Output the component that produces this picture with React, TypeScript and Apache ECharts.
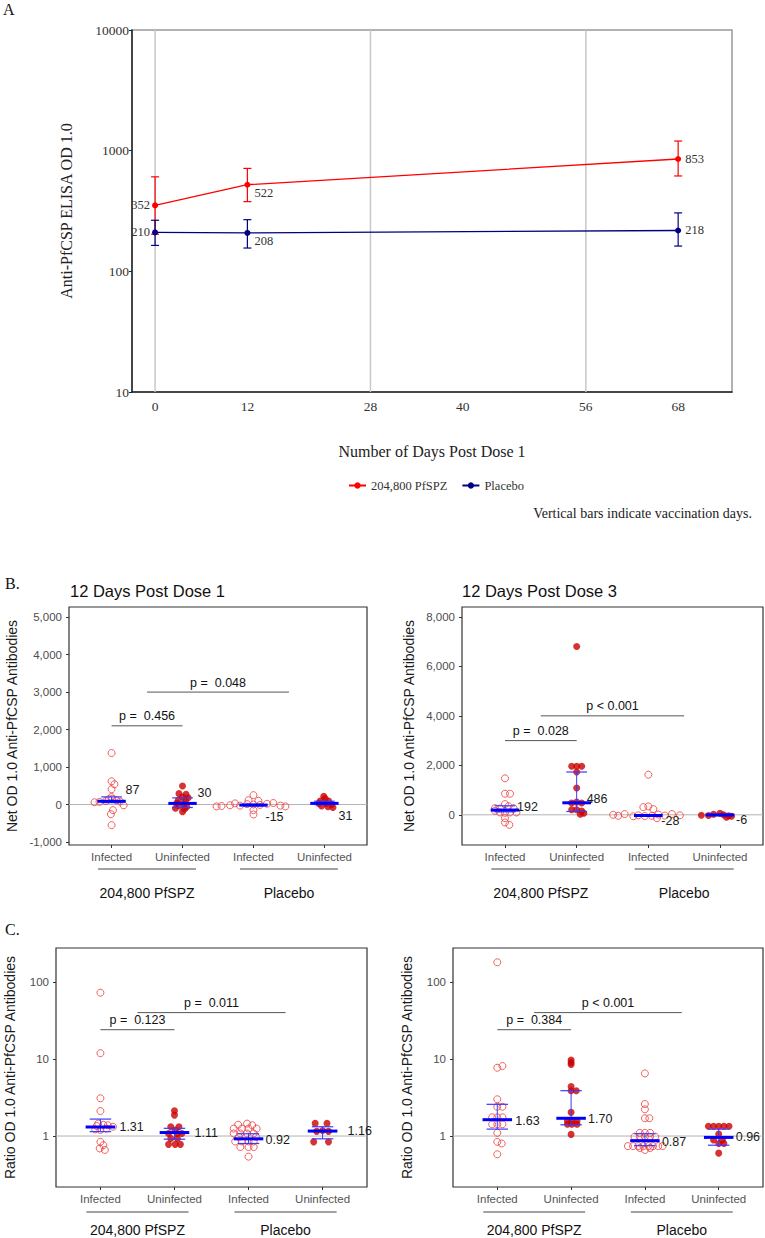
import React, { useEffect, useRef } from 'react';
import * as echarts from 'echarts';

const SANS = '"Liberation Sans", Arial, sans-serif';
const SERIF = '"Liberation Serif", "Times New Roman", serif';

// ---------- Panel A data ----------
const days = [0, 12, 68];
const dayTicks = [0, 12, 28, 40, 56, 68];
const vaccinationDays = [0, 28, 56];
const pfspzGmt = [352, 522, 853];
const pfspzLow = [203, 378, 617];
const pfspzHigh = [607, 713, 1202];
const placeboGmt = [210, 208, 218];
const placeboLow = [164, 156, 162];
const placeboHigh = [265, 268, 305];
const seriesNames = ['204,800 PfSPZ', 'Placebo'];

// ---------- Panels B / C common ----------
const categories = ['Infected', 'Uninfected', 'Infected', 'Uninfected'];
const groupNames = ['204,800 PfSPZ', 'Placebo'];
const groupSpans = [[1, 2], [3, 4]];

// each point: [horizontal swarm offset (category units), value]
// B left: Net OD, 12 days post dose 1
const netD1PfspzInf = [[0, 1374], [0, 620], [0.04, 541], [0, 408], [0, 200], [-0.24, 60], [-0.17, 70], [-0.08, 90], [-0.04, 140], [0.01, 150], [0.07, 110], [0.12, 80], [0.17, -20], [0.02, -150], [-0.01, -257], [0, -550]];
const netD1PfspzUninf = [[0, 496], [-0.05, 290], [0.05, 270], [0, 200], [0.08, 180], [-0.06, 110], [0.04, 100], [-0.08, 40], [0.02, 20], [-0.05, -30], [0.06, -60], [-0.1, -100], [0.03, -120], [0, -190]];
const netD1PlacInf = [[0, 250], [-0.07, 115], [0.07, 100], [-0.52, -50], [-0.45, -40], [-0.33, -20], [-0.26, 30], [-0.19, -30], [-0.09, 10], [0, 0], [0.09, -10], [0.19, 20], [0.28, 40], [0.38, -30], [0.45, -50], [0, -150], [0, -266]];
const netD1PlacUninf = [[-0.01, 222], [0.01, 160], [-0.06, 90], [0.06, 90], [-0.08, 30], [0.02, 30], [0.1, 0], [-0.04, -40], [0.05, -60], [0.12, -80]];
const netD1Medians = [87, 30, -15, 31];
const netD1Lower = [50, -80, -40, 0];
const netD1Upper = [204, 177, 10, 89];
const netD1Ticks = [-1000, 0, 1000, 2000, 3000, 4000, 5000];
const netD1PSpans = [[1, 2, 2100], [1.5, 3.5, 3000]];
const netD1PLabels = ['p =  0.456', 'p =  0.048'];

// B right: Net OD, 12 days post dose 3
const netD3PfspzInf = [[0, 1474], [0, 852], [0.07, 852], [0, 433], [0.05, 350], [-0.07, 257], [-0.14, 270], [0.12, 270], [-0.14, 162], [-0.07, 95], [0, 80], [0.07, 95], [0.16, 95], [0, -135], [0, -311], [0.06, -405]];
const netD3PfspzUninf = [[0, 6800], [-0.07, 1960], [0, 1960], [0.07, 1960], [0, 1730], [0, 1082], [0, 514], [-0.07, 480], [0.07, 480], [-0.07, 203], [0, 203], [0.07, 150], [0.05, 27], [0.1, 60]];
const netD3PlacInf = [[0, 1622], [-0.07, 311], [0, 338], [0.07, 230], [-0.49, 0], [-0.42, -40], [-0.33, 30], [-0.21, -60], [-0.14, -20], [-0.05, -50], [0.05, -40], [0.14, 10], [0.23, -30], [0.33, 30], [0.44, -20], [0.12, -135]];
const netD3PlacUninf = [[-0.26, -20], [-0.16, -30], [-0.09, 20], [0, 60], [0.05, 0], [0.12, -40], [0.16, -60], [0.09, -100]];
const netD3Medians = [192, 486, -28, -6];
const netD3Lower = [120, 135, -45, -30];
const netD3Upper = [365, 1730, -10, 20];
const netD3Ticks = [0, 2000, 4000, 6000, 8000];
const netD3PSpans = [[1, 2, 3000], [1.5, 3.5, 4000]];
const netD3PLabels = ['p =  0.028', 'p < 0.001'];

// C left: Ratio OD, 12 days post dose 1
const ratioD1PfspzInf = [[0, 72.6], [0, 11.9], [0, 3.09], [0, 2.11], [-0.05, 1.35], [-0.03, 1.45], [0.04, 1.4], [0.1, 1.38], [0.17, 1.32], [-0.07, 1.22], [0, 1.2], [0.08, 1.25], [0, 0.84], [0.04, 0.76], [-0.01, 0.69], [0.06, 0.66]];
const ratioD1PfspzUninf = [[0, 2.13], [0, 1.87], [-0.05, 1.32], [0.06, 1.32], [0.01, 1.2], [-0.08, 1.08], [0.04, 1.08], [0.1, 1.08], [-0.05, 0.93], [0.04, 0.93], [-0.08, 0.78], [0.01, 0.78], [0.08, 0.78]];
const ratioD1PlacInf = [[-0.14, 1.4], [-0.02, 1.45], [0.05, 1.38], [-0.2, 1.25], [-0.09, 1.25], [0, 1.25], [0.11, 1.25], [-0.2, 1.08], [-0.11, 1.08], [-0.02, 1.08], [0.07, 1.08], [-0.13, 0.98], [0.1, 0.98], [-0.18, 0.85], [-0.09, 0.85], [0, 0.85], [0.07, 0.85], [-0.11, 0.72], [0, 0.72], [0.07, 0.72], [0, 0.54]];
const ratioD1PlacUninf = [[-0.1, 1.46], [0.06, 1.46], [-0.08, 1.15], [0, 1.18], [0.08, 1.15], [-0.12, 0.84], [0.08, 0.84]];
const ratioD1Medians = [1.31, 1.11, 0.92, 1.16];
const ratioD1Lower = [1.14, 0.91, 0.8, 0.92];
const ratioD1Upper = [1.66, 1.26, 1.07, 1.32];
const ratioD1PSpans = [[1, 2, 24], [1.5, 3.5, 40]];
const ratioD1PLabels = ['p =  0.123', 'p =  0.011'];

// C right: Ratio OD, 12 days post dose 3
const ratioD3PfspzInf = [[0, 180], [0, 7.7], [0.07, 8.1], [0, 3.0], [0, 2.4], [0.07, 2.4], [-0.07, 1.75], [0, 1.75], [0.07, 1.75], [-0.07, 1.42], [0, 1.42], [0.07, 1.42], [0, 1.1], [0, 0.84], [0.06, 0.8], [0, 0.58]];
const ratioD3PfspzUninf = [[0, 9.7], [0, 9.0], [0, 8.5], [0, 4.4], [0, 3.88], [0.07, 3.88], [0, 2.03], [-0.05, 1.58], [0.01, 1.58], [0.08, 1.58], [-0.05, 1.42], [0.01, 1.42], [0.08, 1.42], [0, 1.05]];
const ratioD3PlacInf = [[0, 6.5], [0, 2.6], [0, 2.22], [0, 1.7], [0.06, 1.7], [-0.07, 1.1], [0, 1.1], [0.07, 1.1], [-0.14, 0.98], [-0.07, 0.98], [0, 0.98], [0.07, 0.98], [0.14, 0.98], [-0.23, 0.74], [-0.16, 0.74], [-0.09, 0.74], [-0.02, 0.74], [0.05, 0.74], [0.11, 0.74], [0.18, 0.74], [0.24, 0.74], [-0.07, 0.7], [0.07, 0.7], [0, 0.66]];
const ratioD3PlacUninf = [[-0.14, 1.34], [-0.07, 1.34], [0, 1.34], [0.07, 1.34], [0.14, 1.34], [0, 1.06], [-0.07, 0.89], [0.05, 0.89], [0, 0.8], [0.07, 0.8], [0, 0.6]];
const ratioD3Medians = [1.63, 1.7, 0.87, 0.96];
const ratioD3Lower = [1.23, 1.4, 0.75, 0.76];
const ratioD3Upper = [2.58, 3.88, 1.07, 1.23];
const ratioD3PSpans = [[1, 2, 24], [1.5, 3.5, 40]];
const ratioD3PLabels = ['p =  0.384', 'p < 0.001'];

// ---------- helpers ----------
const fmtThousands = (v: number) => Number(v).toLocaleString('en-US');
const isPow10 = (v: number) => {
  const l = Math.log10(v);
  return Math.abs(l - Math.round(l)) < 1e-6;
};

type SwarmCfg = {
  grid: any;
  log: boolean;
  yMin: number;
  yMax: number;
  ticks?: number[];
  yName: string;
  nameGap: number;
  labelMargin: number;
  points: number[][][];
  medians: number[];
  lower: number[];
  upper: number[];
  fmt: (v: number) => string;
  labelOffsets: number[][];
  pSpans: number[][];
  pLabels: string[];
  refY: number;
  groupLineGap: number;
  groupTextGap: number;
};

function buildSwarm(gi: number, cfg: SwarmCfg) {
  const grid = { ...cfg.grid, show: true, borderColor: '#333', borderWidth: 1.2, backgroundColor: 'transparent' };
  const xAxis = {
    gridIndex: gi,
    type: 'value',
    min: 0.4,
    max: 4.6,
    axisLine: { show: false, onZero: false },
    splitLine: { show: false },
    axisTick: { show: true, customValues: [1, 2, 3, 4], length: 3, lineStyle: { color: '#333' } },
    axisLabel: {
      customValues: [1, 2, 3, 4],
      formatter: (v: number) => categories[Math.round(v) - 1] || '',
      fontFamily: SANS,
      fontSize: 11.5,
      color: '#555',
      margin: 6,
    },
  };
  const yAxis: any = {
    gridIndex: gi,
    type: cfg.log ? 'log' : 'value',
    min: cfg.yMin,
    max: cfg.yMax,
    axisLine: { show: false, onZero: false },
    splitLine: { show: false },
    name: cfg.yName,
    nameLocation: 'middle',
    nameGap: cfg.nameGap,
    nameTextStyle: { fontFamily: SANS, fontSize: 14, color: '#1a1a1a' },
    axisTick: { show: true, length: 3, lineStyle: { color: '#333' } },
    axisLabel: {
      fontFamily: SANS,
      fontSize: 11.5,
      color: '#4d4d4d',
      margin: cfg.labelMargin,
    },
  };
  if (cfg.log) {
    yAxis.logBase = 10;
    yAxis.axisLabel.formatter = (v: number) => (isPow10(v) ? String(Math.round(v)) : '');
    yAxis.axisLabel.showMinLabel = false;
    yAxis.axisLabel.showMaxLabel = false;
  } else {
    yAxis.axisLabel.customValues = cfg.ticks;
    yAxis.axisLabel.formatter = fmtThousands;
    yAxis.axisTick.customValues = cfg.ticks;
  }

  const series: any[] = [];
  // reference line
  series.push({
    type: 'custom',
    xAxisIndex: gi,
    yAxisIndex: gi,
    z: 1,
    silent: true,
    data: [[1, cfg.refY]],
    renderItem: (params: any, api: any) => {
      const cs = params.coordSys;
      const y = api.coord([1, api.value(1)])[1];
      return {
        type: 'line',
        shape: { x1: cs.x, y1: y, x2: cs.x + cs.width, y2: y },
        style: { stroke: '#b3b3b3', lineWidth: 1 },
      };
    },
  });
  cfg.points.forEach((pts, k) => {
    const filled = k % 2 === 1;
    series.push({
      type: 'scatter',
      xAxisIndex: gi,
      yAxisIndex: gi,
      z: 2,
      silent: true,
      symbol: 'circle',
      symbolSize: 7,
      itemStyle: filled
        ? { color: '#CC0000' }
        : { color: 'rgba(255,255,255,0)', borderColor: '#EE3B3B', borderWidth: 1 },
      data: pts.map(([dx, v]) => [k + 1 + dx, v]),
    });
  });
  // medians and intervals
  series.push({
    type: 'custom',
    xAxisIndex: gi,
    yAxisIndex: gi,
    z: 3,
    silent: true,
    data: cfg.medians.map((m, k) => [k + 1, m, cfg.lower[k], cfg.upper[k]]),
    renderItem: (params: any, api: any) => {
      const k = params.dataIndex;
      const x = api.value(0);
      const m = api.value(1);
      const c = api.coord([x, m]);
      const pl = api.coord([x, api.value(2)]);
      const ph = api.coord([x, api.value(3)]);
      const u = api.coord([x + 1, m])[0] - c[0];
      const off = cfg.labelOffsets[k];
      return {
        type: 'group',
        children: [
          { type: 'line', shape: { x1: c[0], y1: pl[1], x2: c[0], y2: ph[1] }, style: { stroke: '#3a3aff', lineWidth: 1 } },
          { type: 'line', shape: { x1: c[0] - 0.145 * u, y1: pl[1], x2: c[0] + 0.145 * u, y2: pl[1] }, style: { stroke: '#3a3aff', lineWidth: 1.2 } },
          { type: 'line', shape: { x1: c[0] - 0.145 * u, y1: ph[1], x2: c[0] + 0.145 * u, y2: ph[1] }, style: { stroke: '#3a3aff', lineWidth: 1.2 } },
          { type: 'line', shape: { x1: c[0] - 0.2 * u, y1: c[1], x2: c[0] + 0.2 * u, y2: c[1] }, style: { stroke: '#0000ff', lineWidth: 3 } },
          {
            type: 'text',
            x: c[0] + off[0],
            y: c[1] + off[1],
            style: { text: cfg.fmt(m), fill: '#1a1a1a', fontSize: 12.5, fontFamily: SANS, align: 'left', verticalAlign: 'middle' },
          },
        ],
      };
    },
  });
  // p-value brackets
  series.push({
    type: 'custom',
    xAxisIndex: gi,
    yAxisIndex: gi,
    z: 3,
    silent: true,
    data: cfg.pSpans,
    renderItem: (params: any, api: any) => {
      const a = api.coord([api.value(0), api.value(2)]);
      const b = api.coord([api.value(1), api.value(2)]);
      return {
        type: 'group',
        children: [
          { type: 'line', shape: { x1: a[0], y1: a[1], x2: b[0], y2: a[1] }, style: { stroke: '#555', lineWidth: 1 } },
          {
            type: 'text',
            x: (a[0] + b[0]) / 2,
            y: a[1] - 3,
            style: { text: cfg.pLabels[params.dataIndex], fill: '#111', fontSize: 12.5, fontFamily: SANS, align: 'center', verticalAlign: 'bottom' },
          },
        ],
      };
    },
  });
  // group labels under the axis
  series.push({
    type: 'custom',
    xAxisIndex: gi,
    yAxisIndex: gi,
    z: 3,
    silent: true,
    data: groupSpans.map((s) => [s[0], cfg.refY, s[1]]),
    renderItem: (params: any, api: any) => {
      const cs = params.coordSys;
      const a = api.coord([api.value(0) - 0.19, cfg.refY])[0];
      const b = api.coord([api.value(2) + 0.19, cfg.refY])[0];
      const yb = cs.y + cs.height;
      return {
        type: 'group',
        children: [
          { type: 'line', shape: { x1: a, y1: yb + cfg.groupLineGap, x2: b, y2: yb + cfg.groupLineGap }, style: { stroke: '#444', lineWidth: 1 } },
          {
            type: 'text',
            x: (a + b) / 2,
            y: yb + cfg.groupTextGap,
            style: { text: groupNames[params.dataIndex], fill: '#111', fontSize: 14, fontFamily: SANS, align: 'center', verticalAlign: 'middle' },
          },
        ],
      };
    },
  });
  return { grid, xAxis, yAxis, series };
}

function buildOption() {
  // Panel A
  const gridA = { left: 132, top: 30, width: 600, height: 362, show: true, borderColor: '#999', borderWidth: 1.5 };
  const xA = {
    gridIndex: 0,
    type: 'value',
    min: -3,
    max: 75,
    axisLine: { show: true, onZero: false, lineStyle: { color: '#222', width: 1.5 } },
    axisTick: { show: false },
    splitLine: { show: false },
    axisLabel: { customValues: dayTicks, fontFamily: SERIF, fontSize: 13.5, color: '#333', margin: 7 },
    name: 'Number of Days Post Dose 1',
    nameLocation: 'middle',
    nameGap: 51,
    nameTextStyle: { fontFamily: SERIF, fontSize: 16, color: '#222' },
  };
  const yA = {
    gridIndex: 0,
    type: 'log',
    logBase: 10,
    min: 10,
    max: 10000,
    axisLine: { show: true, onZero: false, lineStyle: { color: '#222', width: 1.5 } },
    axisTick: { show: true, length: 3, lineStyle: { color: '#222' } },
    splitLine: { show: false },
    axisLabel: { fontFamily: SERIF, fontSize: 13.5, color: '#333', margin: 3, formatter: (v: number) => String(Math.round(v)) },
    name: 'Anti-PfCSP ELISA OD 1.0',
    nameLocation: 'middle',
    nameGap: 58,
    nameTextStyle: { fontFamily: SERIF, fontSize: 16, color: '#222' },
  };
  const errBar = (color: string) => (params: any, api: any) => {
    const x = api.value(0);
    const lo = api.coord([x, api.value(1)]);
    const hi = api.coord([x, api.value(2)]);
    return {
      type: 'group',
      children: [
        { type: 'line', shape: { x1: lo[0], y1: lo[1], x2: hi[0], y2: hi[1] }, style: { stroke: color, lineWidth: 1.2 } },
        { type: 'line', shape: { x1: lo[0] - 4, y1: lo[1], x2: lo[0] + 4, y2: lo[1] }, style: { stroke: color, lineWidth: 1.2 } },
        { type: 'line', shape: { x1: hi[0] - 4, y1: hi[1], x2: hi[0] + 4, y2: hi[1] }, style: { stroke: color, lineWidth: 1.2 } },
      ],
    };
  };
  const labelA = { show: true, fontFamily: SERIF, fontSize: 12.5, color: '#333', formatter: (p: any) => String(p.value[1]) };
  const posA = [
    { position: 'left', distance: 2 },
    { position: 'right', distance: 4, offset: [0, 8] },
    { position: 'right', distance: 4 },
  ];
  const seriesA: any[] = [
    {
      type: 'custom',
      xAxisIndex: 0,
      yAxisIndex: 0,
      z: 1,
      silent: true,
      data: vaccinationDays.map((d) => [d, 100]),
      renderItem: (params: any, api: any) => {
        const cs = params.coordSys;
        const x = api.coord([api.value(0), 100])[0];
        return { type: 'line', shape: { x1: x, y1: cs.y, x2: x, y2: cs.y + cs.height }, style: { stroke: '#c8c8c8', lineWidth: 1.5 } };
      },
    },
    {
      type: 'line',
      name: seriesNames[0],
      xAxisIndex: 0,
      yAxisIndex: 0,
      z: 3,
      color: '#FF0000',
      symbol: 'circle',
      symbolSize: 6,
      lineStyle: { width: 1.3 },
      label: labelA,
      data: days.map((d, i) => ({ value: [d, pfspzGmt[i]], label: posA[i] })),
    },
    {
      type: 'line',
      name: seriesNames[1],
      xAxisIndex: 0,
      yAxisIndex: 0,
      z: 3,
      color: '#000080',
      symbol: 'circle',
      symbolSize: 6,
      lineStyle: { width: 1.3 },
      label: labelA,
      data: days.map((d, i) => ({ value: [d, placeboGmt[i]], label: posA[i] })),
    },
    {
      type: 'custom',
      xAxisIndex: 0,
      yAxisIndex: 0,
      z: 2,
      silent: true,
      data: days.map((d, i) => [d, pfspzLow[i], pfspzHigh[i]]),
      renderItem: errBar('#FF0000'),
    },
    {
      type: 'custom',
      xAxisIndex: 0,
      yAxisIndex: 0,
      z: 2,
      silent: true,
      data: days.map((d, i) => [d, placeboLow[i], placeboHigh[i]]),
      renderItem: errBar('#000080'),
    },
  ];

  const b1 = buildSwarm(1, {
    grid: { left: 69, top: 607, width: 298, height: 238 },
    log: false, yMin: -1080, yMax: 5270, ticks: netD1Ticks,
    yName: 'Net OD 1.0 Anti-PfCSP Antibodies', nameGap: 50, labelMargin: 7,
    points: [netD1PfspzInf, netD1PfspzUninf, netD1PlacInf, netD1PlacUninf],
    medians: netD1Medians, lower: netD1Lower, upper: netD1Upper,
    fmt: (v) => String(v),
    labelOffsets: [[14, -11], [15, -10], [12, 12], [14, 13]],
    pSpans: netD1PSpans, pLabels: netD1PLabels, refY: 0, groupLineGap: 24, groupTextGap: 48,
  });
  const b2 = buildSwarm(2, {
    grid: { left: 462, top: 607, width: 301, height: 238 },
    log: false, yMin: -1220, yMax: 8400, ticks: netD3Ticks,
    yName: 'Net OD 1.0 Anti-PfCSP Antibodies', nameGap: 46, labelMargin: 7,
    points: [netD3PfspzInf, netD3PfspzUninf, netD3PlacInf, netD3PlacUninf],
    medians: netD3Medians, lower: netD3Lower, upper: netD3Upper,
    fmt: (v) => String(v),
    labelOffsets: [[12, -3], [10, -4], [13, 5], [16, 5]],
    pSpans: netD3PSpans, pLabels: netD3PLabels, refY: 0, groupLineGap: 24, groupTextGap: 48,
  });
  const c1 = buildSwarm(3, {
    grid: { left: 56, top: 948, width: 311, height: 239 },
    log: true, yMin: 0.218, yMax: 276,
    yName: 'Ratio OD 1.0 Anti-PfCSP Antibodies', nameGap: 39, labelMargin: 7,
    points: [ratioD1PfspzInf, ratioD1PfspzUninf, ratioD1PlacInf, ratioD1PlacUninf],
    medians: ratioD1Medians, lower: ratioD1Lower, upper: ratioD1Upper,
    fmt: (v) => v.toFixed(2),
    labelOffsets: [[19, 0], [20, 0], [17, 1], [25, 0]],
    pSpans: ratioD1PSpans, pLabels: ratioD1PLabels, refY: 1, groupLineGap: 25, groupTextGap: 43,
  });
  const c2 = buildSwarm(4, {
    grid: { left: 453, top: 948, width: 310, height: 239 },
    log: true, yMin: 0.218, yMax: 276,
    yName: 'Ratio OD 1.0 Anti-PfCSP Antibodies', nameGap: 39, labelMargin: 7,
    points: [ratioD3PfspzInf, ratioD3PfspzUninf, ratioD3PlacInf, ratioD3PlacUninf],
    medians: ratioD3Medians, lower: ratioD3Lower, upper: ratioD3Upper,
    fmt: (v) => v.toFixed(2),
    labelOffsets: [[18, 1], [17, 1], [17, 1], [17, 0]],
    pSpans: ratioD3PSpans, pLabels: ratioD3PLabels, refY: 1, groupLineGap: 25, groupTextGap: 43,
  });

  const panelText = (text: string, left: number, top: number, font: string, size: number) => ({
    type: 'text',
    left,
    top,
    style: { text, fontFamily: font, fontSize: size, fill: '#111' },
  });

  return {
    animation: false,
    backgroundColor: '#fff',
    grid: [gridA, b1.grid, b2.grid, c1.grid, c2.grid],
    xAxis: [xA, b1.xAxis, b2.xAxis, c1.xAxis, c2.xAxis],
    yAxis: [yA, b1.yAxis, b2.yAxis, c1.yAxis, c2.yAxis],
    legend: {
      data: seriesNames,
      left: 343,
      top: 474,
      itemWidth: 17,
      itemHeight: 8,
      itemGap: 14,
      selectedMode: false,
      textStyle: { fontFamily: SERIF, fontSize: 12.5, color: '#333' },
    },
    graphic: [
      panelText('A', 3, 1, SERIF, 16),
      panelText('B.', 5, 575, SERIF, 16),
      panelText('C.', 5, 921, SERIF, 16),
      panelText('12 Days Post Dose 1', 70, 582, SANS, 16.5),
      panelText('12 Days Post Dose 3', 462, 582, SANS, 16.5),
      {
        type: 'text',
        right: 13,
        top: 506,
        style: { text: 'Vertical bars indicate vaccination days.', fontFamily: SERIF, fontSize: 14, fill: '#222' },
      },
    ],
    series: [...seriesA, ...b1.series, ...b2.series, ...c1.series, ...c2.series],
  };
}

export default function App() {
  const ref = useRef<HTMLDivElement>(null);
  useEffect(() => {
    if (!ref.current) return;
    const chart = echarts.init(ref.current, undefined, { renderer: 'svg' });
    chart.setOption(buildOption() as any);
    return () => chart.dispose();
  }, []);
  return (
    <div
      ref={ref}
      style={{ position: 'absolute', left: 0, top: 0, width: 765, height: 1238, background: '#fff' }}
    />
  );
}
